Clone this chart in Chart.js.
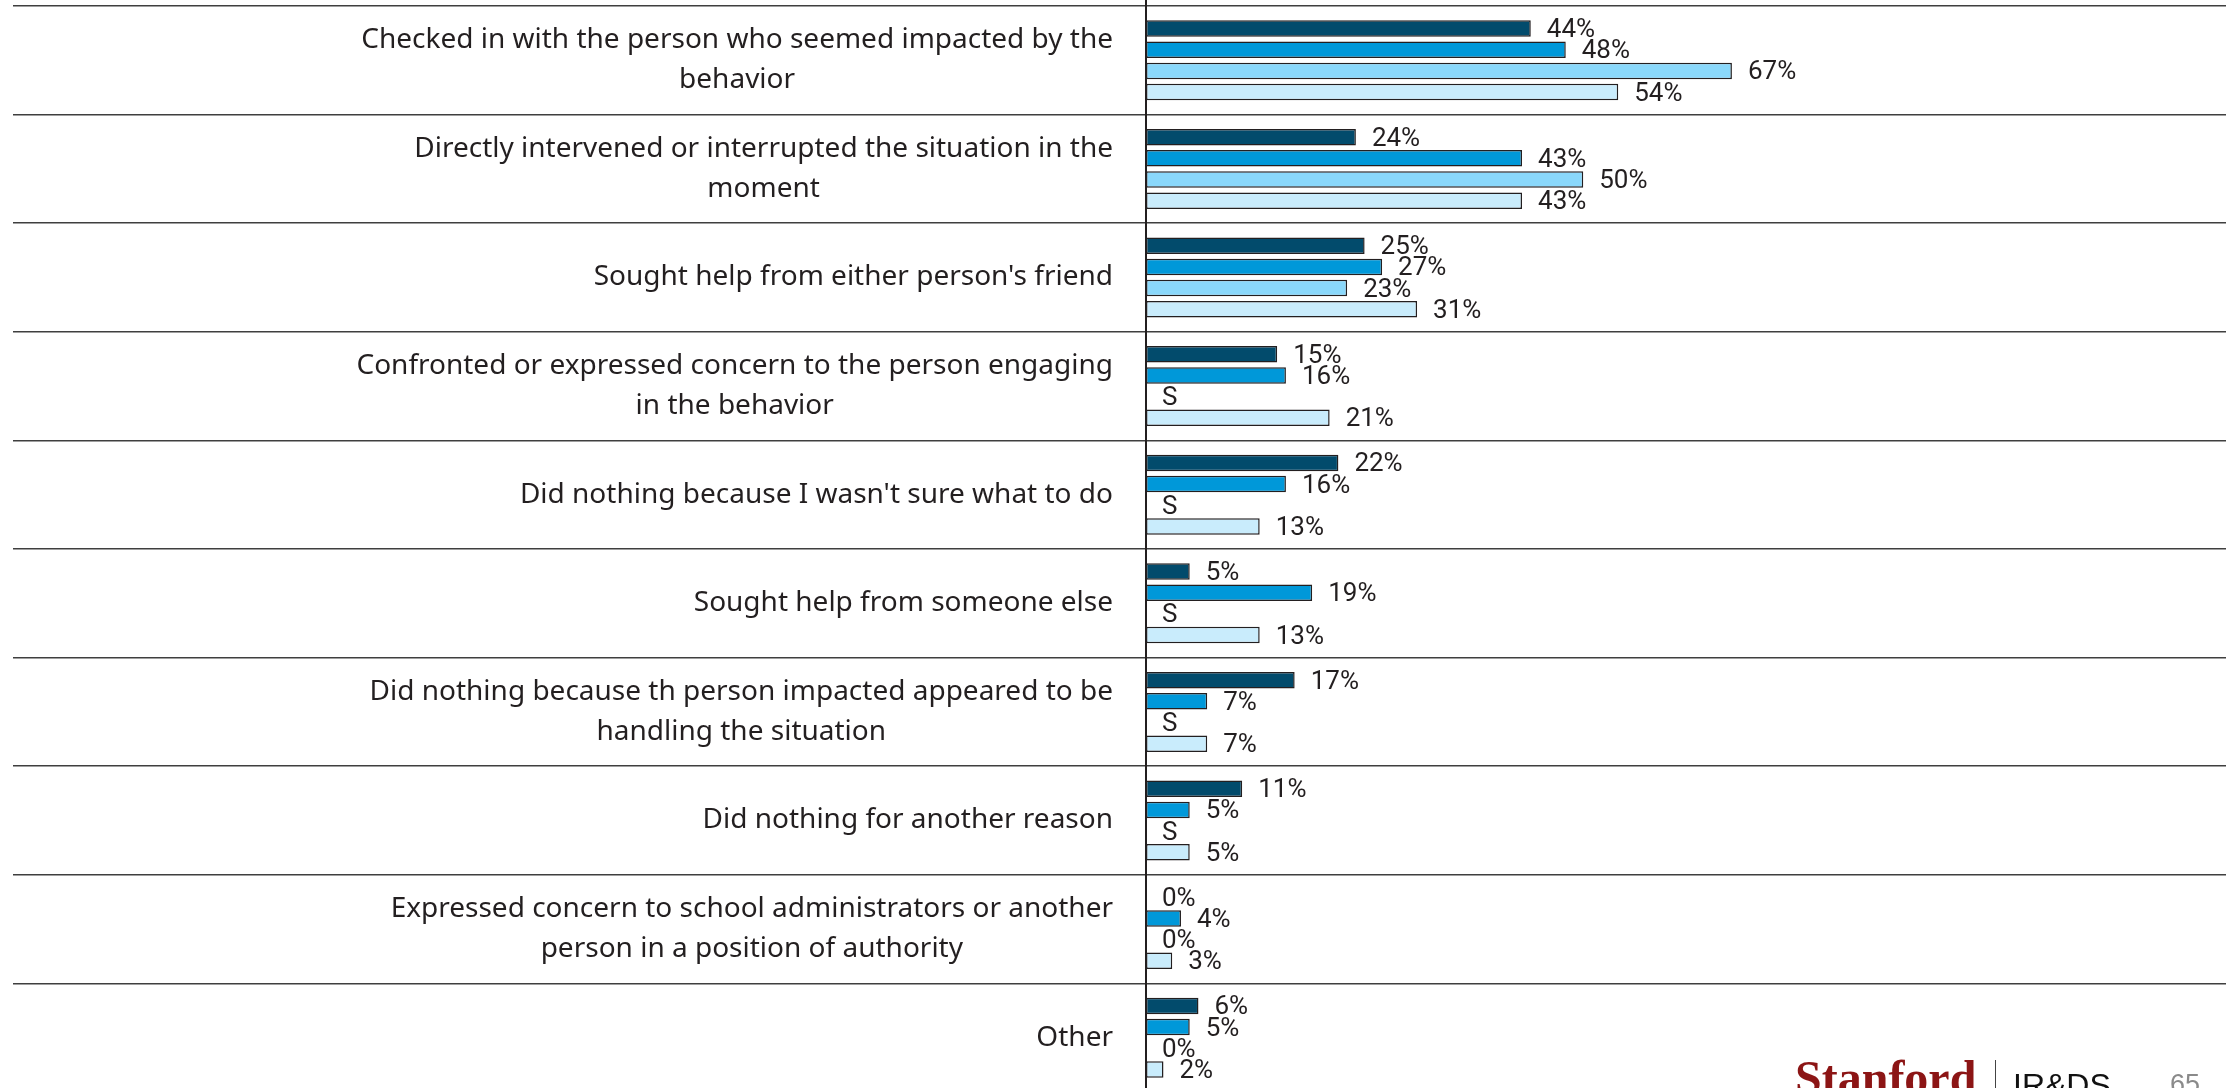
<!DOCTYPE html>
<html>
<head>
<meta charset="utf-8">
<script src="https://cdn.jsdelivr.net/npm/chart.js@4.4.0/dist/chart.umd.min.js"></script>
<style>
  html, body { margin: 0; padding: 0; background: #fff; overflow: hidden; }
  #wrap { position: relative; width: 2226px; height: 1088px; overflow: hidden; }
  #c { position: absolute; left: 0; top: 0; }
  .foot { position: absolute; white-space: nowrap; }
  #stan { left: 1795px; top: 1054px; font: bold 48px "Liberation Serif"; line-height: 48px; color: #8c1515; }
  #sep { left: 1995px; top: 1060px; width: 1px; height: 40px; background: #444; }
  #irds { left: 2013px; top: 1069px; font: 32px "Liberation Sans"; line-height: 32px; color: #111; }
  #pg { left: 2170px; top: 1071px; font: 27px "Liberation Sans"; line-height: 27px; color: #8a8a8a; }
</style>
</head>
<body>
<div id="wrap">
  <canvas id="c" width="2226" height="1095"></canvas>
  <div class="foot" id="stan">Stanford</div>
  <div class="foot" id="sep"></div>
  <div class="foot" id="irds">IR&amp;DS</div>
  <div class="foot" id="pg">65</div>
</div>
<script>
const categories = [
    ["Checked in with the person who seemed impacted by the", "behavior"],
    ["Directly intervened or interrupted the situation in the", "moment"],
    ["Sought help from either person's friend"],
    ["Confronted or expressed concern to the person engaging", "in the behavior"],
    ["Did nothing because I wasn't sure what to do"],
    ["Sought help from someone else"],
    ["Did nothing because th person impacted appeared to be", "handling the situation"],
    ["Did nothing for another reason"],
    ["Expressed concern to school administrators or another", "person in a position of authority"],
    ["Other"]
];

const seriesNames = ["Group 1", "Group 2", "Group 3", "Group 4"];
// null = suppressed ("S")
const group1 = [44, 24, 25, 15, 22, 5, 17, 11, 0, 6];
const group2 = [48, 43, 27, 16, 16, 19, 7, 5, 4, 5];
const group3 = [67, 50, 23, null, null, null, null, null, 0, 0];
const group4 = [54, 43, 31, 21, 13, 13, 7, 5, 3, 2];
const suppressedText = "S";

const fills = ["#024b6c", "#0098d9", "#8ad8fb", "#c9ecfc"];
const edge = "#231f20";

const allSeries = [group1, group2, group3, group4];

const extras = {
    id: 'extras',
    afterDatasetsDraw(chart) {
        const ctx = chart.ctx;
        const xs = chart.scales.x;
        const ys = chart.scales.y;
        const x0 = xs.getPixelForValue(0);
        ctx.save();

        // value labels
        ctx.fillStyle = edge;
        ctx.font = '26px Roboto';
        ctx.textAlign = 'left';
        ctx.textBaseline = 'middle';
        chart.data.datasets.forEach((ds, i) => {
            const meta = chart.getDatasetMeta(i);
            meta.data.forEach((bar, j) => {
                const v = ds.data[j];
                const txt = v === null ? suppressedText : v + '%';
                const x = v === null || v === 0 ? x0 : bar.x;
                ctx.fillText(txt, x + 16, bar.y + 2);
            });
        });

        // category labels, block right aligned, lines centred
        ctx.font = '28px "Noto Sans"';
        ctx.fillStyle = edge;
        categories.forEach((lines, j) => {
            const yc = ys.getPixelForValue(j);
            const w = Math.max(...lines.map(l => ctx.measureText(l).width));
            const cx = x0 - 33 - w / 2;
            ctx.textAlign = 'center';
            lines.forEach((l, k) => {
                const y = yc + (k - (lines.length - 1) / 2) * 40;
                ctx.fillText(l, cx, y);
            });
        });

        // axis line
        ctx.strokeStyle = edge;
        ctx.lineWidth = 2;
        ctx.beginPath();
        ctx.moveTo(x0, 0);
        ctx.lineTo(x0, chart.height);
        ctx.stroke();
        ctx.restore();
    }
};

const chart = new Chart(document.getElementById("c").getContext("2d"), {
    type: 'bar',
    data: {
        labels: categories,
        datasets: allSeries.map((d, i) => ({
            label: seriesNames[i],
            data: d,
            backgroundColor: fills[i],
            borderColor: edge,
            borderWidth: ctx => (ctx.raw ? 1.5 : 0),
            borderSkipped: false,
            categoryPercentage: 0.78,
            barPercentage: 0.78
        }))
    },
    options: {
        indexAxis: 'y',
        responsive: false,
        animation: false,
        layout: { padding: { top: 6, bottom: 3, left: 13, right: 0 } },
        scales: {
            x: {
                display: false,
                min: 0,
                max: 123.5
            },
            y: {
                afterFit: scale => { scale.width = 1133; },
                ticks: { display: false },
                border: { display: false },
                grid: {
                    offset: true,
                    color: '#3f3f3f',
                    lineWidth: 1.5,
                    drawTicks: true,
                    tickLength: 1133
                }
            }
        },
        plugins: {
            legend: { display: false },
            tooltip: { enabled: false }
        }
    },
    plugins: [extras]
});
</script>
</body>
</html>
